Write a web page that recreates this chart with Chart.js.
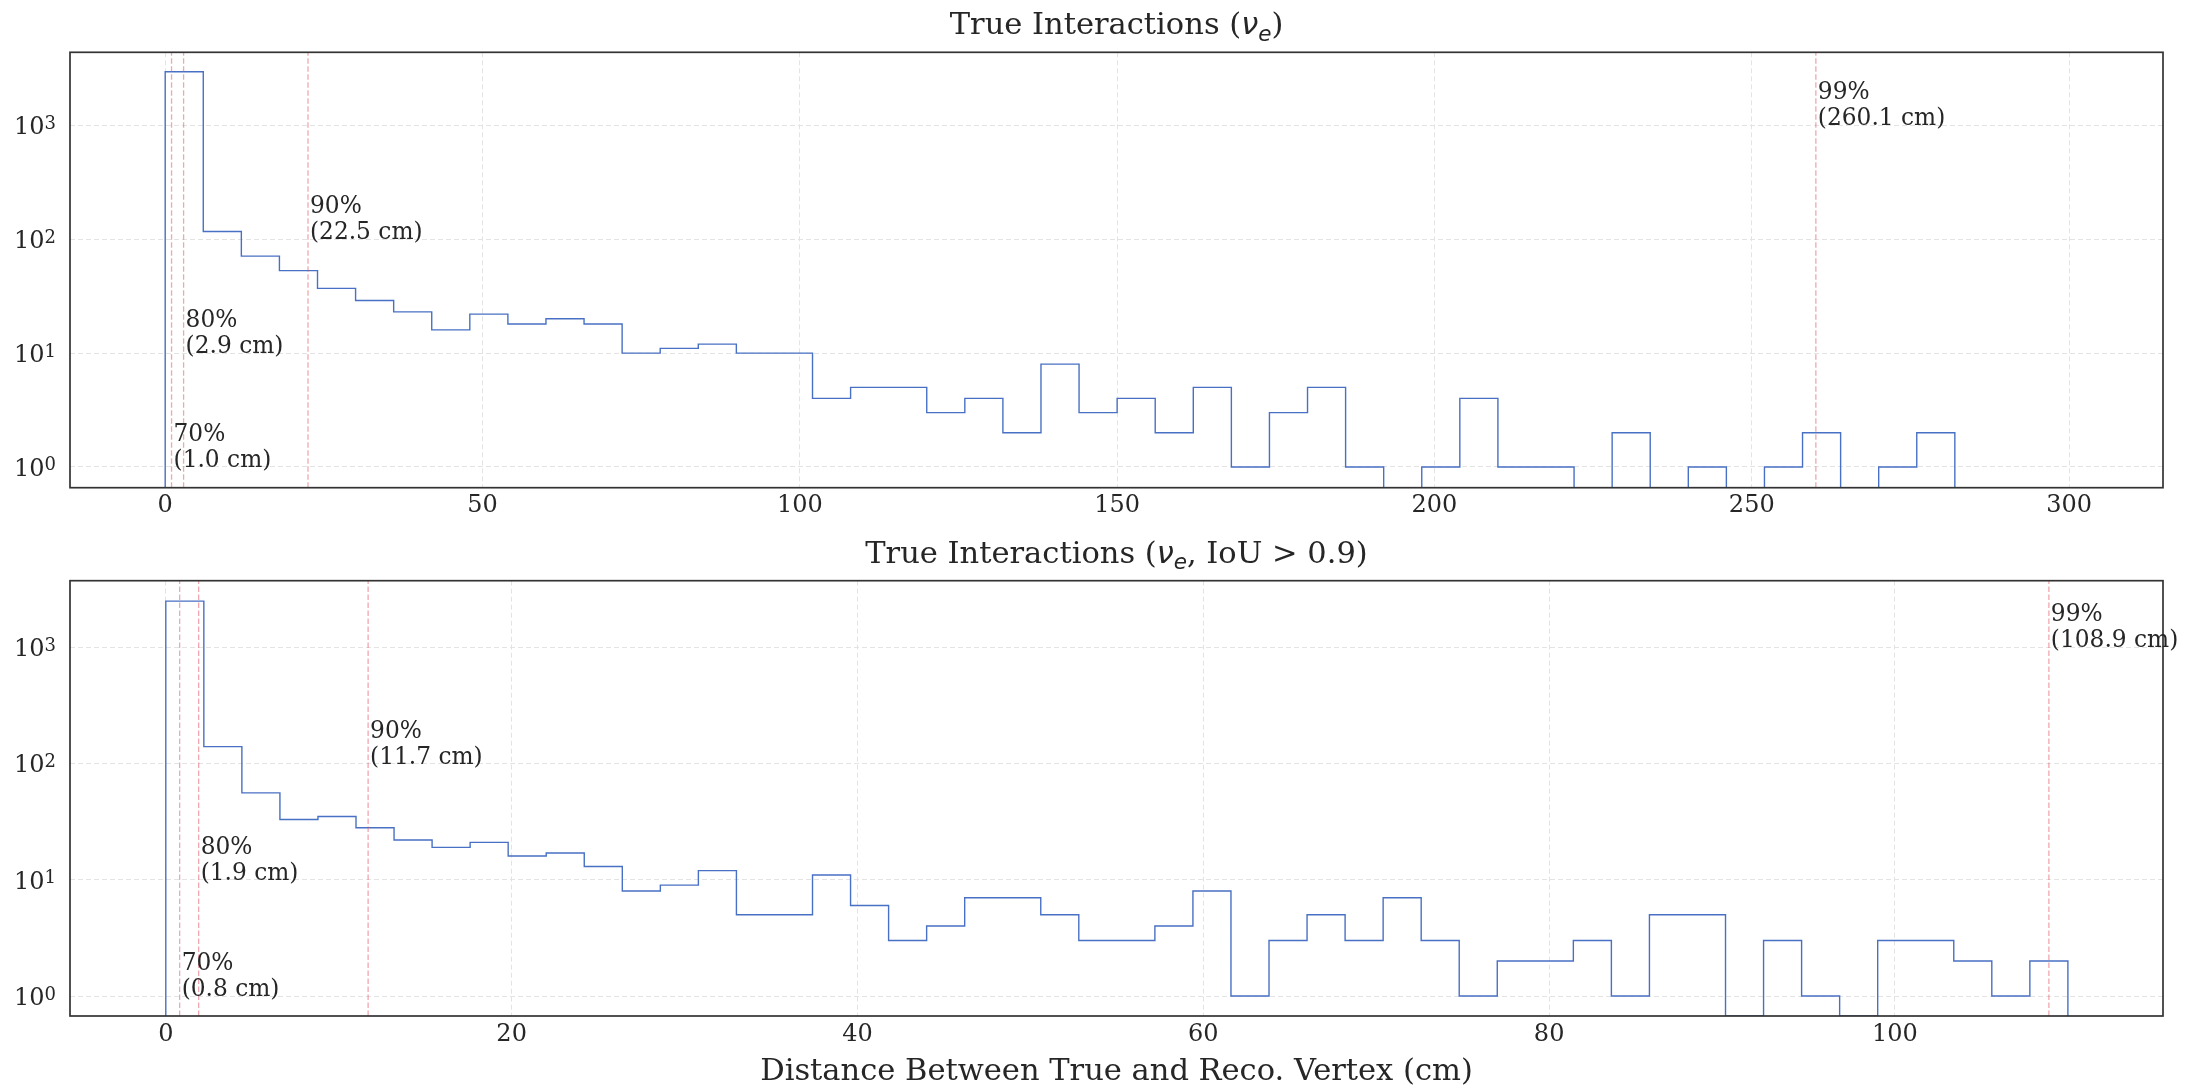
<!DOCTYPE html>
<html>
<head>
<meta charset="utf-8">
<script src="https://cdn.jsdelivr.net/npm/chart.js@4.4.1/dist/chart.umd.min.js"></script>
<style>
  html, body { margin: 0; padding: 0; background: #ffffff; }
  #wrap { position: relative; width: 2209px; height: 1087px; }
  .pane { position: absolute; left: 0; width: 2209px; }
  #paneTop { top: 0; height: 540px; }
  #paneBottom { top: 540px; height: 547px; }
</style>
</head>
<body>
<div id="wrap">
  <div class="pane" id="paneTop"><canvas id="chartTop"></canvas></div>
  <div class="pane" id="paneBottom"><canvas id="chartBottom"></canvas></div>
</div>
<script>
// ---- data -------------------------------------------------------------
// All true interactions: 50 equal bins over 0-300 cm
const TOP_BIN_RANGE = [0, 300];
const TOP_COUNTS = [2950, 117, 71, 53, 37, 29, 23, 16, 22, 18,
                    20, 18, 10, 11, 12, 10, 10, 4, 5, 5,
                    3, 4, 2, 8, 3, 4, 2, 5, 1, 3,
                    5, 1, 0, 1, 4, 1, 1, 0, 2, 0,
                    1, 0, 1, 2, 0, 1, 2, 0, 0, 0];
// Interactions with IoU > 0.9: 50 equal bins over 0-110 cm
const BOTTOM_BIN_RANGE = [0, 110];
const BOTTOM_COUNTS = [2500, 140, 56, 33, 35, 28, 22, 19, 21, 16,
                       17, 13, 8, 9, 12, 5, 5, 11, 6, 3,
                       4, 7, 7, 5, 3, 3, 4, 8, 1, 3,
                       5, 3, 7, 3, 1, 2, 2, 3, 1, 5,
                       5, 0, 3, 1, 0, 3, 3, 2, 1, 2];

// Containment percentiles (distance in cm) and the count level each label sits on
const PCT_NAMES = ['70%', '80%', '90%', '99%'];
const TOP_PCT_CM = [1.0, 2.9, 22.5, 260.1];
const BOTTOM_PCT_CM = [0.8, 1.9, 11.7, 108.9];
const PCT_LABEL_LEVEL = [1, 10, 100, 1000];

// Axis ticks
const TOP_X_TICKS = [0, 50, 100, 150, 200, 250, 300];
const BOTTOM_X_TICKS = [0, 20, 40, 60, 80, 100];
const Y_TICKS = [1, 10, 100, 1000];
const Y_TICK_EXPONENTS = ['0', '1', '2', '3'];

// Text
const TOP_TITLE = ['True Interactions (', 'ν', 'e', ')'];
const BOTTOM_TITLE = ['True Interactions (', 'ν', 'e', ', IoU > 0.9)'];
const X_LABEL = 'Distance Between True and Reco. Vertex (cm)';

// ---- styling ----------------------------------------------------------
const SERIF = '"DejaVu Serif", serif';
const MATH = '"DejaVu Sans", sans-serif';
const INK = '#262626';
const HIST_COLOR = '#4870c4';
const PCT_COLOR = 'rgba(228, 80, 95, 0.5)';
const GRID_COLOR = '#e3e3e3';
const FRAME_COLOR = '#333333';

// Step outline of a histogram; empty bins fall to the axis floor
function stepOutline(range, counts, floor) {
  const n = counts.length;
  const w = (range[1] - range[0]) / n;
  const pts = [{ x: range[0], y: floor }];
  counts.forEach((c, i) => pts.push({ x: range[0] + i * w, y: c > 0 ? c : floor }));
  const last = counts[n - 1];
  pts.push({ x: range[1], y: last > 0 ? last : floor });
  pts.push({ x: range[1], y: floor });
  return pts;
}

function drawPieces(ctx, pieces, cx, baseline) {
  let total = 0;
  pieces.forEach(p => { ctx.font = p.font; p.w = ctx.measureText(p.text).width; total += p.w; });
  let x = cx - total / 2;
  ctx.textAlign = 'left';
  ctx.textBaseline = 'alphabetic';
  pieces.forEach(p => { ctx.font = p.font; ctx.fillText(p.text, x, baseline + (p.dy || 0)); x += p.w; });
}

function titlePieces(parts) {
  return [
    { text: parts[0], font: `30.5px ${SERIF}` },
    { text: parts[1], font: `italic 30.5px ${MATH}` },
    { text: parts[2], font: `italic 21.5px ${MATH}`, dy: 6.5 },
    { text: parts[3], font: `30.5px ${SERIF}` }
  ];
}

function buildPanel(canvasId, cfg) {
  const el = document.getElementById(canvasId);
  const H = el.parentElement.clientHeight;

  const datasets = [{
    data: stepOutline(cfg.range, cfg.counts, cfg.yMin),
    stepped: 'before',
    borderColor: HIST_COLOR,
    borderWidth: 1.4,
    pointRadius: 0,
    fill: false,
    order: 1
  }];
  cfg.pct.forEach(p => datasets.push({
    data: [{ x: p, y: cfg.yMin }, { x: p, y: cfg.yMax }],
    borderColor: PCT_COLOR,
    borderWidth: 1.3,
    borderDash: [5.5, 2.5],
    pointRadius: 0,
    fill: false,
    order: 0
  }));

  const annotate = {
    id: 'panelText',
    afterDraw(chart) {
      const ctx = chart.ctx;
      const area = chart.chartArea;
      const xs = chart.scales.x;
      const ys = chart.scales.y;
      ctx.save();
      ctx.fillStyle = INK;

      // frame
      ctx.strokeStyle = FRAME_COLOR;
      ctx.lineWidth = 1.7;
      ctx.setLineDash([]);
      ctx.strokeRect(area.left, area.top, area.right - area.left, area.bottom - area.top);

      // log tick labels as 10 with a raised exponent
      Y_TICKS.forEach((v, i) => {
        const y = ys.getPixelForValue(v);
        ctx.font = `18px ${SERIF}`;
        const ew = ctx.measureText(Y_TICK_EXPONENTS[i]).width;
        const xEnd = 56;
        ctx.textAlign = 'left';
        ctx.textBaseline = 'alphabetic';
        ctx.fillText(Y_TICK_EXPONENTS[i], xEnd - ew, y + 3.5);
        ctx.font = `24px ${SERIF}`;
        ctx.textAlign = 'right';
        ctx.fillText('10', xEnd - ew, y + 8.8);
      });

      // percentile labels
      ctx.font = `23.3px ${SERIF}`;
      ctx.textAlign = 'left';
      ctx.textBaseline = 'alphabetic';
      PCT_NAMES.forEach((name, i) => {
        const v = cfg.pct[i];
        const x = xs.getPixelForValue(v) + 2;
        const y = ys.getPixelForValue(PCT_LABEL_LEVEL[i]);
        ctx.fillText(name, x, y - 26);
        ctx.fillText(`(${v.toFixed(1)} cm)`, x, y);
      });

      // title
      const cx = (area.left + area.right) / 2;
      drawPieces(ctx, titlePieces(cfg.title), cx, area.top - 18);

      // x axis label
      if (cfg.xLabel) {
        ctx.font = `30.5px ${SERIF}`;
        ctx.textAlign = 'center';
        ctx.fillText(cfg.xLabel, cx, area.bottom + 64);
      }
      ctx.restore();
    }
  };

  return new Chart(el, {
    type: 'line',
    data: { datasets },
    plugins: [annotate],
    options: {
      responsive: true,
      maintainAspectRatio: false,
      animation: false,
      events: [],
      layout: { padding: { left: 0, right: 2209 - 2163, top: cfg.areaTop, bottom: 0 } },
      plugins: { legend: { display: false }, tooltip: { enabled: false }, title: { display: false } },
      scales: {
        x: {
          type: 'linear',
          bounds: 'data',
          min: cfg.xMin,
          max: cfg.xMax,
          afterBuildTicks: s => { s.ticks = cfg.xTicks.map(v => ({ value: v })); },
          afterFit: s => { s.height = H - cfg.areaBottom; },
          grid: { color: GRID_COLOR, lineWidth: 1, drawTicks: false },
          border: { display: false, dash: [5, 3] },
          ticks: {
            autoSkip: false,
            maxRotation: 0,
            padding: 4,
            color: INK,
            font: { family: 'DejaVu Serif', size: 24 }
          }
        },
        y: {
          type: 'logarithmic',
          bounds: 'data',
          min: cfg.yMin,
          max: cfg.yMax,
          afterBuildTicks: s => { s.ticks = Y_TICKS.map(v => ({ value: v })); },
          afterFit: s => { s.width = 70; },
          grid: { color: GRID_COLOR, lineWidth: 1, drawTicks: false },
          border: { display: false, dash: [5, 3] },
          ticks: { display: false }
        }
      }
    }
  });
}

buildPanel('chartTop', {
  range: TOP_BIN_RANGE, counts: TOP_COUNTS, pct: TOP_PCT_CM,
  xMin: -15, xMax: 314.8, yMin: 0.658, yMax: 4375,
  xTicks: TOP_X_TICKS, title: TOP_TITLE, xLabel: null,
  areaTop: 52.3, areaBottom: 487.7
});

buildPanel('chartBottom', {
  range: BOTTOM_BIN_RANGE, counts: BOTTOM_COUNTS, pct: BOTTOM_PCT_CM,
  xMin: -5.54, xMax: 115.5, yMin: 0.673, yMax: 3744,
  xTicks: BOTTOM_X_TICKS, title: BOTTOM_TITLE, xLabel: X_LABEL,
  areaTop: 40.7, areaBottom: 476
});
</script>
</body>
</html>
